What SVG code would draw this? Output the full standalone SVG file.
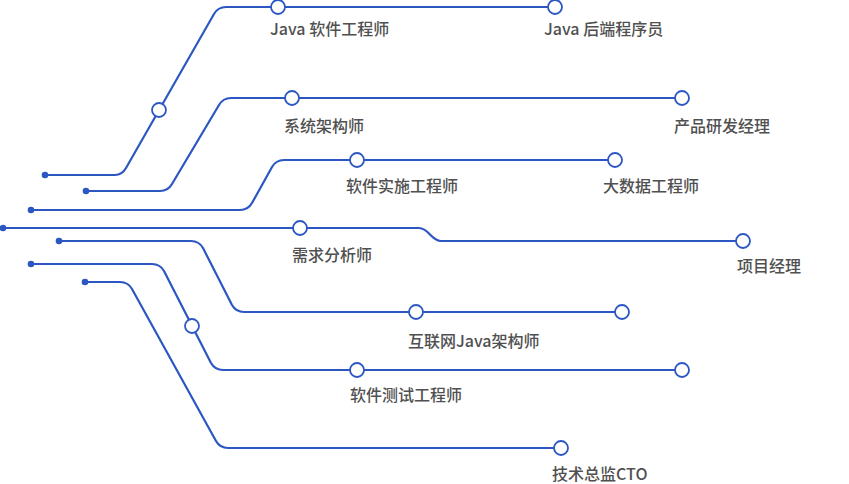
<svg xmlns="http://www.w3.org/2000/svg" width="849" height="484" viewBox="0 0 849 484">
<style>
.ln{fill:none;stroke:#2c56c2;stroke-width:2.2;stroke-linecap:round;stroke-linejoin:round}
.dot{fill:#2c56c2}
.st{fill:#fff;stroke:#2c56c2;stroke-width:1.8}
.lb{font-family:"Noto Sans CJK SC","Noto Sans",sans-serif;font-size:16px;font-weight:500;fill:#505050}
</style>
<rect width="849" height="484" fill="#fff"/>
<g id="connectors">
<path class="ln" d="M45,175 H115 Q122,175 126,168 L214,14 Q218,7 226,7 H555"/>
<path class="ln" d="M86,191 H160 Q168,191 172,184 L219,105 Q223,98 231,98 H682"/>
<path class="ln" d="M31,210 H240 Q248,210 252,203 L272,167 Q276,160 284,160 H615"/>
<path class="ln" d="M3,228 H419 C429,228 431,241 441,241 H743"/>
<path class="ln" d="M59,241 H191 Q199,241 203,248 L232,305 Q236,312 244,312 H622"/>
<path class="ln" d="M31,264 H152 Q160,264 164,271 L211,363 Q215,370 223,370 H682"/>
<path class="ln" d="M85,282 H120 Q128,282 132,289 L216,441 Q220,448 228,448 H561"/>
</g>
<g id="starts">
<circle class="dot" cx="45" cy="175" r="3.3"/>
<circle class="dot" cx="86" cy="191" r="3.3"/>
<circle class="dot" cx="31" cy="210" r="3.3"/>
<circle class="dot" cx="3" cy="228" r="3.3"/>
<circle class="dot" cx="59" cy="241" r="3.3"/>
<circle class="dot" cx="31" cy="264" r="3.3"/>
<circle class="dot" cx="85" cy="282" r="3.3"/>
</g>
<g id="node-a0"><circle class="st" cx="159" cy="110" r="7"/></g>
<g id="node-java-se"><circle class="st" cx="278" cy="7" r="7"/><text class="lb" x="270" y="35">Java 软件工程师</text></g>
<g id="node-java-backend"><circle class="st" cx="555" cy="7" r="7"/><text class="lb" x="544" y="35">Java 后端程序员</text></g>
<g id="node-sys-arch"><circle class="st" cx="292" cy="98" r="7"/><text class="lb" x="284" y="132">系统架构师</text></g>
<g id="node-pm-rd"><circle class="st" cx="682" cy="98" r="7"/><text class="lb" x="674" y="132">产品研发经理</text></g>
<g id="node-impl"><circle class="st" cx="357" cy="160" r="7"/><text class="lb" x="346" y="192">软件实施工程师</text></g>
<g id="node-bigdata"><circle class="st" cx="615" cy="160" r="7"/><text class="lb" x="603" y="192">大数据工程师</text></g>
<g id="node-req"><circle class="st" cx="300" cy="228" r="7"/><text class="lb" x="292" y="261">需求分析师</text></g>
<g id="node-pm"><circle class="st" cx="743" cy="241" r="7"/><text class="lb" x="737" y="272">项目经理</text></g>
<g id="node-web-arch"><circle class="st" cx="416" cy="312" r="7"/><text class="lb" x="408" y="347">互联网Java架构师</text></g>
<g id="node-e1"><circle class="st" cx="622" cy="312" r="7"/></g>
<g id="node-f0"><circle class="st" cx="192" cy="326" r="7"/></g>
<g id="node-test"><circle class="st" cx="357" cy="370" r="7"/><text class="lb" x="350" y="401">软件测试工程师</text></g>
<g id="node-f2"><circle class="st" cx="682" cy="370" r="7"/></g>
<g id="node-cto"><circle class="st" cx="561" cy="448" r="7"/><text class="lb" x="552" y="480">技术总监CTO</text></g>
</svg>
